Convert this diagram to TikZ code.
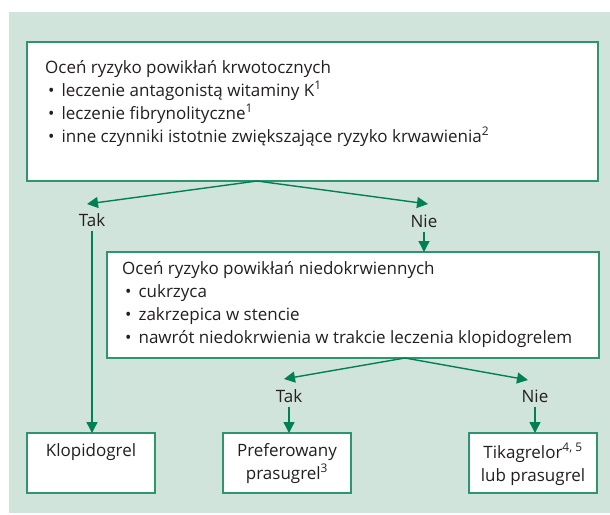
\documentclass[tikz,border=0pt]{standalone}
\usepackage{fontspec}
\setmainfont{Open Sans}
\usetikzlibrary{arrows.meta}
\definecolor{bgc}{RGB}{208,228,219}
\definecolor{boxc}{RGB}{45,150,110}
\definecolor{arrc}{RGB}{0,128,84}
\definecolor{txtc}{RGB}{35,31,32}
\newcommand\bul{\hspace*{3pt}\textbullet\hspace{7pt}}
\newcommand\sups[1]{\textsuperscript{#1}}
\begin{document}
\begin{tikzpicture}[x=1pt,y=-1pt,
  box/.style={draw=boxc, line width=1.4pt, fill=white, inner sep=0pt, outer sep=0pt, anchor=north west},
  txt/.style={text=txtc, inner sep=0pt, font=\fontsize{17}{23}\selectfont},
  lbl/.style={text=txtc, inner sep=4pt, font=\fontsize{17}{23}\selectfont},
  arr/.style={draw=arrc, line width=1.4pt, -{Triangle[length=11pt,width=11pt]}}]
\useasboundingbox (0,0) rectangle (610,514);
\fill[bgc] (9,12) rectangle (610,513);
% boxes
\node[box, minimum width=571pt, minimum height=139pt] (top) at (27,42) {};
\node[box, minimum width=492pt, minimum height=106pt] (mid) at (107,252) {};
\node[box, minimum width=128pt, minimum height=60pt] (klop) at (27,433) {};
\node[box, minimum width=128pt, minimum height=60pt] (pref) at (223,433) {};
\node[box, minimum width=128pt, minimum height=60pt] (tika) at (469,433) {};
% texts
\node[txt, anchor=north west, align=left] (toptext) at (45,60) {Oceń ryzyko powikłań krwotocznych\\
\bul leczenie antagonistą witaminy K\sups{1}\\
\bul leczenie fibrynolityczne\sups{1}\\
\bul inne czynniki istotnie zwiększające ryzyko krwawienia\sups{2}};
\node[txt, anchor=north west, align=left] (midtext) at (122,261) {Oceń ryzyko powikłań niedokrwiennych\\
\bul cukrzyca\\
\bul zakrzepica w stencie\\
\bul nawrót niedokrwienia w trakcie leczenia klopidogrelem};
\node[txt, anchor=north, align=center] (kloptext) at (klop.north) [yshift=-10pt] {Klopidogrel};
\node[txt, anchor=north, align=center] (preftext) at (pref.north) [yshift=-10pt] {Preferowany\\prasugrel\sups{3}};
\node[txt, anchor=north, align=center] (tikatext) at (tika.north) [yshift=-10pt] {Tikagrelor\sups{4, 5}\\lub prasugrel};
% labels
\node[lbl] (tak1) at (92,220) {Tak};
\node[lbl] (nie1) at (424,221) {Nie};
\node[lbl] (tak2) at (289,396) {Tak};
\node[lbl] (nie2) at (535,396) {Nie};
% connector points
\coordinate (ap1) at (257,181);
\coordinate (t1) at (87,204);
\coordinate (n1) at (428,204);
\coordinate (ap2) at (405,358);
\coordinate (t2) at (284,379);
\coordinate (n2) at (528,380);
% connectors
\draw[arr] (ap1) -- (t1);
\draw[arr] (ap1) -- (n1);
\draw[arr] (tak1.south) -- (tak1.south |- klop.north);
\draw[arr] (nie1.south) -- (nie1.south |- mid.north);
\draw[arr] (ap2) -- (t2);
\draw[arr] (ap2) -- (n2);
\draw[arr] (tak2.south) -- (tak2.south |- pref.north);
\draw[arr] (nie2.south) -- (nie2.south |- tika.north);
\end{tikzpicture}
\end{document}
